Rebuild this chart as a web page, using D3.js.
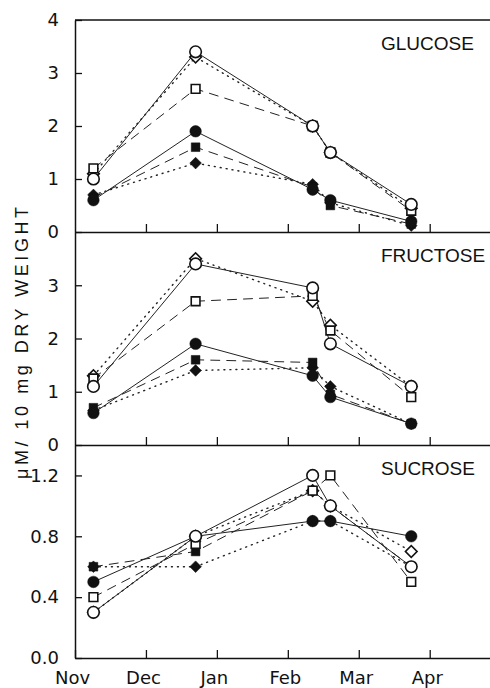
<!DOCTYPE html>
<html>
<head>
<meta charset="utf-8">
<script src="https://cdn.jsdelivr.net/npm/d3@7"></script>
<style>
body { margin: 0; background: #fff; }
</style>
</head>
<body>
<script>
// month names on the x axis (month index from Nov 1)
var months = ["Nov", "Dec", "Jan", "Feb", "Mar", "Apr"];
// sampling dates, in months after Nov 1
var sampleDates = [0.26, 1.7, 3.35, 3.6, 4.74];

// glucose
var glucoseOpenCircle    = [1.0, 3.4, 2.0, 1.5, 0.52];
var glucoseOpenDiamond   = [1.1, 3.3, 2.0, 1.5, 0.45];
var glucoseOpenSquare    = [1.2, 2.7, 2.0, 1.5, 0.4];
var glucoseFilledCircle  = [0.6, 1.9, 0.8, 0.6, 0.2];
var glucoseFilledSquare  = [0.65, 1.6, 0.85, 0.5, 0.15];
var glucoseFilledDiamond = [0.7, 1.3, 0.9, 0.55, 0.12];

// fructose
var fructoseOpenCircle    = [1.1, 3.4, 2.95, 1.9, 1.1];
var fructoseOpenDiamond   = [1.3, 3.5, 2.7, 2.25, 1.1];
var fructoseOpenSquare    = [1.25, 2.7, 2.8, 2.15, 0.9];
var fructoseFilledCircle  = [0.6, 1.9, 1.3, 0.9, 0.4];
var fructoseFilledSquare  = [0.7, 1.6, 1.55, 0.95, 0.4];
var fructoseFilledDiamond = [0.65, 1.4, 1.45, 1.1, 0.4];

// sucrose
var sucroseOpenCircle    = [0.3, 0.8, 1.2, 1.0, 0.6];
var sucroseOpenDiamond   = [0.3, 0.8, 1.1, 1.0, 0.7];
var sucroseOpenSquare    = [0.4, 0.75, 1.1, 1.2, 0.5];
var sucroseFilledCircle  = [0.5, 0.8, 0.9, 0.9, 0.8];
var sucroseFilledSquare  = [0.6, 0.7, 1.1, 1.0, 0.6];
var sucroseFilledDiamond = [0.6, 0.6, 0.9, 0.9, 0.6];

// y tick labels
var glucoseTicks = [0, 1, 2, 3, 4];
var fructoseTicks = [0, 1, 2, 3];
var sucroseTicks = [0, 0.4, 0.8, 1.2];

var W = 490, H = 688;
var left = 75, right = 490;

var svg = d3.select("body").append("svg")
            .attr("width", W)
            .attr("height", H);

var x = d3.scaleLinear().domain([0, 5.85]).range([left, right]);

// draw order: filled first, open on top
var kinds = [
    { shape: "diamond", open: false, dash: "1,5" },
    { shape: "square",  open: false, dash: "9,7" },
    { shape: "circle",  open: false, dash: null },
    { shape: "diamond", open: true,  dash: "1,5" },
    { shape: "square",  open: true,  dash: "9,7" },
    { shape: "circle",  open: true,  dash: null }
];

var panels = [
    { title: "GLUCOSE", max: 4, top: 20, bottom: 232, ticks: glucoseTicks, fmt: d3.format("d"),
      series: [glucoseFilledDiamond, glucoseFilledSquare, glucoseFilledCircle,
               glucoseOpenDiamond, glucoseOpenSquare, glucoseOpenCircle] },
    { title: "FRUCTOSE", max: 4, top: 232, bottom: 445, ticks: fructoseTicks, fmt: d3.format("d"),
      series: [fructoseFilledDiamond, fructoseFilledSquare, fructoseFilledCircle,
               fructoseOpenDiamond, fructoseOpenSquare, fructoseOpenCircle] },
    { title: "SUCROSE", max: 1.4, top: 445, bottom: 658, ticks: sucroseTicks, fmt: d3.format(".1f"),
      series: [sucroseFilledDiamond, sucroseFilledSquare, sucroseFilledCircle,
               sucroseOpenDiamond, sucroseOpenSquare, sucroseOpenCircle] }
];

function symbolPath(shape) {
    if (shape == "circle") return d3.symbol().type(d3.symbolCircle).size(105)();
    return d3.symbol().type(d3.symbolSquare).size(shape == "square" ? 76 : 68)();
}

// top border
svg.append("line")
   .attr("x1", left).attr("x2", right)
   .attr("y1", 20).attr("y2", 20)
   .attr("stroke", "#111").attr("stroke-width", 1.5);

panels.forEach(function(p, pi) {
    var y = d3.scaleLinear().domain([0, p.max]).range([p.bottom, p.top]);
    var last = pi == panels.length - 1;

    // x axis at the panel bottom, ticks pointing in
    var xa = svg.append("g")
        .attr("transform", "translate(0," + p.bottom + ")")
        .call(d3.axisBottom(x)
                .tickValues(last ? [0, 1, 2, 3, 4, 5] : [1, 2, 3, 4, 5])
                .tickSize(-8)
                .tickSizeOuter(0)
                .tickPadding(13)
                .tickFormat(function(d) { return last ? months[d] : ""; }));

    var ya = svg.append("g")
        .attr("transform", "translate(" + left + ",0)")
        .call(d3.axisLeft(y)
                .tickValues(p.ticks)
                .tickSize(-7)
                .tickSizeOuter(0)
                .tickPadding(16)
                .tickFormat(p.fmt));

    [xa, ya].forEach(function(a) {
        a.select(".domain").attr("stroke", "#111").attr("stroke-width", 1.5);
        a.selectAll(".tick line").attr("stroke", "#111").attr("stroke-width", 1.3);
        a.selectAll("text")
         .attr("fill", "#111")
         .style("font-family", "'DejaVu Sans', sans-serif")
         .style("font-size", "18px");
    });
    xa.selectAll("text").attr("dx", -3);

    svg.append("text")
       .attr("x", 381)
       .attr("y", p.top + 30)
       .attr("fill", "#111")
       .style("font-family", "'Liberation Sans', Arial, sans-serif")
       .style("font-size", "19px")
       .text(p.title);

    var line = d3.line()
                 .x(function(d, i) { return x(sampleDates[i]); })
                 .y(function(d) { return y(d); });

    // lines first
    svg.append("g")
       .selectAll("path")
       .data(p.series)
       .enter()
       .append("path")
       .attr("d", line)
       .attr("fill", "none")
       .attr("stroke", "#222")
       .attr("stroke-width", function(d, i) { return kinds[i].dash == "1,5" ? 1.4 : 1; })
       .attr("stroke-linecap", "round")
       .attr("stroke-dasharray", function(d, i) { return kinds[i].dash; });

    // markers
    p.series.forEach(function(vals, si) {
        var k = kinds[si];
        svg.append("g")
           .selectAll("path")
           .data(vals)
           .enter()
           .append("path")
           .attr("d", symbolPath(k.shape))
           .attr("transform", function(d, i) {
               return "translate(" + x(sampleDates[i]) + "," + y(d) + ")" +
                      (k.shape == "diamond" ? " rotate(45)" : "");
           })
           .attr("fill", k.open ? "#fff" : "#111")
           .attr("stroke", "#111")
           .attr("stroke-width", k.open ? 1.6 : 0.5);
    });
});

// y axis title
svg.append("text")
   .attr("transform", "translate(28,343) rotate(-90)")
   .attr("text-anchor", "middle")
   .attr("fill", "#111")
   .attr("textLength", 272)
   .attr("lengthAdjust", "spacing")
   .style("font-family", "'Liberation Sans', Arial, sans-serif")
   .style("font-size", "18px")
   .text("μM/ 10 mg DRY WEIGHT");
</script>
</body>
</html>
